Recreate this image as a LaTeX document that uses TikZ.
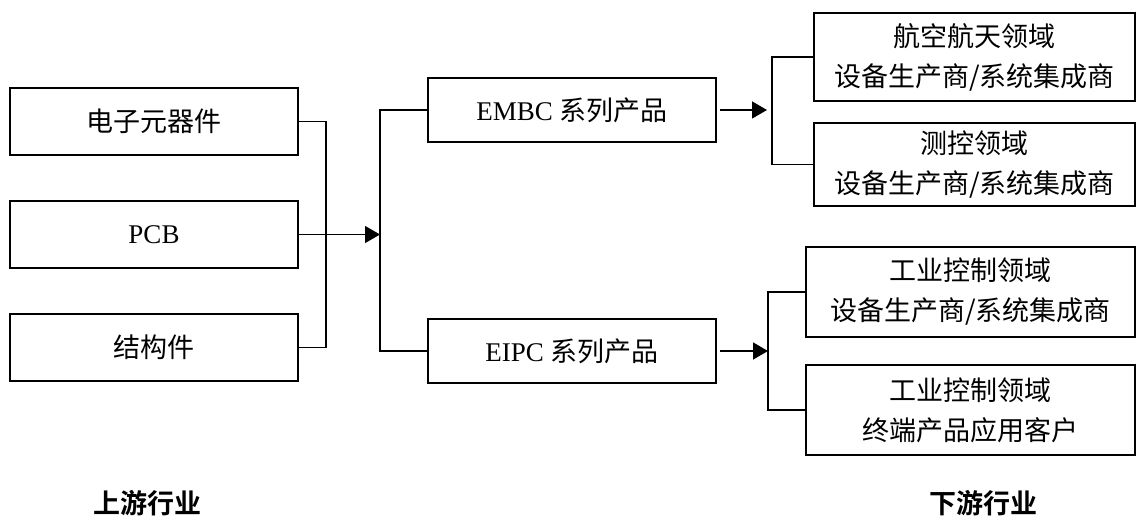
\documentclass[tikz,border=0pt]{standalone}
\usepackage{fontspec}
\setmainfont{Liberation Serif}
\newfontfamily\cjk{Noto Sans CJK SC}
\newfontfamily\cjkbold{Noto Sans CJK SC Bold}
\usetikzlibrary{positioning, arrows.meta}

\begin{document}
\begin{tikzpicture}[x=0.5pt,y=-0.5pt,on grid,line width=0.7pt,
    font=\fontsize{13.5pt}{20pt}\selectfont,
    box/.style={draw, rectangle, inner sep=0pt, align=center},
    upbox/.style={box, minimum width=144pt, minimum height=33.5pt},
    midbox/.style={box, minimum width=144pt, minimum height=32pt},
    >={Triangle[length=7.5pt,width=8.5pt]}]

    \useasboundingbox (0,0) rectangle (1138,517);

    \node[upbox] (up_1) at (154,121.5) {\cjk 电子元器件};
    \node[upbox] (up_2) [below=56.5pt of up_1] {PCB};
    \node[upbox] (up_3) [below=56.5pt of up_2] {\cjk 结构件};

    \node[midbox] (mid_1) at (572,110) {EMBC {\cjk 系列产品}};
    \node[midbox] (mid_2) [below=120.5pt of mid_1] {EIPC {\cjk 系列产品}};

    \node[box, minimum width=160.5pt, minimum height=44pt] (down_1) at (974.5,57)
        {\cjk 航空航天领域\\\cjk 设备生产商/系统集成商};
    \node[box, minimum width=160.5pt, minimum height=41.5pt] (down_2) [below=53.75pt of down_1]
        {\cjk 测控领域\\\cjk 设备生产商/系统集成商};
    \node[box, minimum width=164.5pt, minimum height=45pt] (down_3) at (970.5,292)
        {\cjk 工业控制领域\\\cjk 设备生产商/系统集成商};
    \node[box, minimum width=164.5pt, minimum height=45pt] (down_4) [below=59pt of down_3]
        {\cjk 工业控制领域\\\cjk 终端产品应用客户};

    \node (up_label) at (147,503) {\cjkbold 上游行业};
    \node (down_label) at (983,503) {\cjkbold 下游行业};

    \coordinate (j_up) at (326,234.5);
    \coordinate (j_mid) at (380,234.5);
    \coordinate (j_top) at (772,110);
    \coordinate (j_bot) at (768,351);

    \draw (up_1.east) -| (j_up) |- (up_3.east);
    \draw[->] (up_2.east) -- (j_mid);
    \draw (mid_1.west) -| (j_mid) |- (mid_2.west);

    \draw[->, shorten <=1.5pt, shorten >=2.5pt] (mid_1.east) -- (j_top);
    \draw[->, shorten <=1.5pt] (mid_2.east) -- (j_bot);
    \draw (down_1.west) -| (j_top) |- (down_2.west);
    \draw (down_3.west) -| (j_bot) |- (down_4.west);

\end{tikzpicture}
\end{document}
